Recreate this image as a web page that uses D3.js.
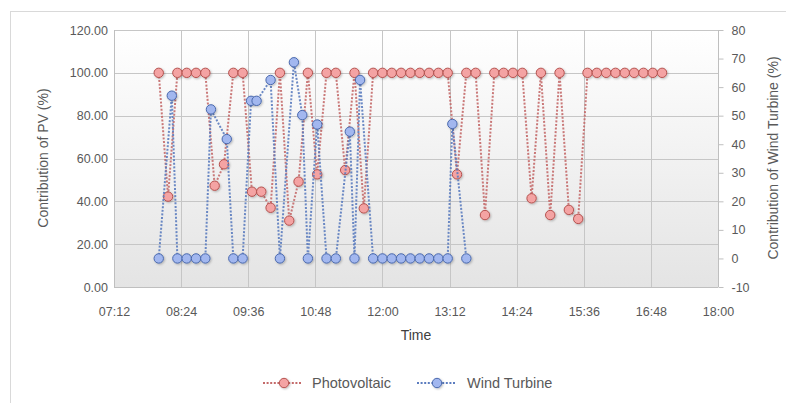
<!DOCTYPE html>
<html>
<head>
<meta charset="utf-8">
<script src="https://cdn.jsdelivr.net/npm/d3@7/dist/d3.min.js"></script>
<style>
html,body{margin:0;padding:0;background:#fff;}
svg{display:block;font-family:"Liberation Sans",Arial,sans-serif;}
</style>
</head>
<body>
<svg id="chart" width="786" height="403"></svg>
<script>
// ---- data ----
const pvTimes = ["08:00","08:10","08:20","08:30","08:40","08:50","09:00","09:10","09:20","09:30",
  "09:40","09:50","10:00","10:10","10:20","10:30","10:40","10:50","11:00","11:10",
  "11:20","11:30","11:40","11:50","12:00","12:10","12:20","12:30","12:40","12:50",
  "13:00","13:10","13:20","13:30","13:40","13:50","14:00","14:10","14:20","14:30",
  "14:40","14:50","15:00","15:10","15:20","15:30","15:40","15:50","16:00","16:10",
  "16:20","16:30","16:40","16:50","17:00"];
const pvValues = [100,42.2,100,100,100,100,47.3,57.3,100,100,
  44.5,44.5,37.0,100,31.0,49.2,100,52.6,100,100,
  54.6,100,36.7,100,100,100,100,100,100,100,
  100,100,52.6,100,100,33.6,100,100,100,100,
  41.4,100,33.6,100,36.0,31.8,100,100,100,100,
  100,100,100,100,100];
const windTimes = ["08:00","08:14","08:20","08:30","08:40","08:50","08:56","09:13","09:20","09:30",
  "09:39","09:45","10:00","10:10","10:25","10:34","10:40","10:50","11:00","11:10",
  "11:25","11:30","11:36","11:50","12:00","12:10","12:20","12:30","12:40","12:50",
  "13:00","13:10","13:15","13:30"];
const windValues = [0,57.0,0,0,0,0,52.2,41.8,0,0,
  55.2,55.2,62.5,0,68.7,50.2,0,46.9,0,0,
  44.4,0,62.5,0,0,0,0,0,0,0,
  0,0,47.1,0];
const xTickLabels = ["07:12","08:24","09:36","10:48","12:00","13:12","14:24","15:36","16:48","18:00"];
const leftTicks = [0,20,40,60,80,100,120];
const rightTicks = [-10,0,10,20,30,40,50,60,70,80];
const seriesNames = ["Photovoltaic","Wind Turbine"];

// ---- layout ----
const svg = d3.select("#chart");
const L = 114, R = 718, T = 30, B = 287;
const parse = d3.timeParse("%H:%M");
const x = d3.scaleTime().domain([parse("07:12"), parse("18:00")]).range([L, R]);
const yL = d3.scaleLinear().domain([0,120]).range([B, T]);
const yR = d3.scaleLinear().domain([-10,80]).range([B, T]);
const txt = "#595959";

// outer frame
svg.append("rect").attr("x",10.5).attr("y",11.5).attr("width",800).attr("height",420)
  .attr("fill","none").attr("stroke","#d9d9d9");

// plot background gradient
const defs = svg.append("defs");
const g = defs.append("linearGradient").attr("id","bg").attr("x1",0).attr("y1",0).attr("x2",0).attr("y2",1);
g.append("stop").attr("offset","0%").attr("stop-color","#ffffff");
g.append("stop").attr("offset","100%").attr("stop-color","#e4e4e4");
const sh = defs.append("filter").attr("id","sh").attr("x","-50%").attr("y","-50%").attr("width","200%").attr("height","200%");
sh.append("feDropShadow").attr("dx",1).attr("dy",1).attr("stdDeviation",1).attr("flood-color","#000").attr("flood-opacity",0.25);

svg.append("rect").attr("x",L).attr("y",T).attr("width",R-L).attr("height",B-T).attr("fill","url(#bg)");

// gridlines
const grid = svg.append("g").attr("stroke","#c6c6c6").attr("stroke-width",1);
leftTicks.forEach(v=>{
  grid.append("line").attr("x1",L).attr("x2",R).attr("y1",Math.round(yL(v))+0.5).attr("y2",Math.round(yL(v))+0.5);
});
xTickLabels.forEach(t=>{
  const xv = Math.round(x(parse(t)))+0.5;
  grid.append("line").attr("x1",xv).attr("x2",xv).attr("y1",T).attr("y2",B);
});
// axis lines
svg.append("line").attr("x1",L+0.5).attr("x2",L+0.5).attr("y1",T).attr("y2",B).attr("stroke","#bfbfbf");
svg.append("line").attr("x1",L).attr("x2",R).attr("y1",B+0.5).attr("y2",B+0.5).attr("stroke","#bfbfbf");

// left axis
const axL = d3.axisLeft(yL).tickValues(leftTicks).tickSize(0).tickPadding(6).tickFormat(d3.format(".2f"));
const gL = svg.append("g").attr("transform",`translate(${L},0)`).call(axL);
gL.select(".domain").remove();
gL.selectAll("text").attr("fill",txt).style("font-size","12.5px").attr("font-family","Liberation Sans, Arial, sans-serif");

// right axis
const axR = d3.axisRight(yR).tickValues(rightTicks).tickSize(5).tickPadding(8).tickFormat(d=>String(d));
const gR = svg.append("g").attr("transform",`translate(${R+0.5},0)`).call(axR);
gR.select(".domain").attr("stroke","#bfbfbf").attr("d",`M0,${T}V${B}`);
gR.selectAll(".tick line").attr("stroke","#bfbfbf");
gR.selectAll("text").attr("fill",txt).style("font-size","12.5px").attr("font-family","Liberation Sans, Arial, sans-serif");

// bottom axis
const axB = d3.axisBottom(x).tickValues(xTickLabels.map(parse)).tickSize(0).tickPadding(20).tickFormat(d3.timeFormat("%H:%M"));
const gB = svg.append("g").attr("transform",`translate(0,${B})`).call(axB);
gB.select(".domain").remove();
gB.selectAll("text").attr("fill",txt).style("font-size","12.5px").attr("font-family","Liberation Sans, Arial, sans-serif");

// axis titles
svg.append("text").attr("transform",`translate(48,158) rotate(-90)`).attr("text-anchor","middle")
  .attr("fill",txt).style("font-size","14px").text("Contribution of PV (%)");
svg.append("text").attr("transform",`translate(778,158) rotate(-90)`).attr("text-anchor","middle")
  .attr("fill",txt).style("font-size","14px").text("Contribution of Wind Turbine (%)");
svg.append("text").attr("x",416).attr("y",340).attr("text-anchor","middle")
  .attr("fill","#404040").style("font-size","14px").text("Time");

// series
const styles = [
  {line:"#c46a6a", fill:"#f4a3a3", stroke:"#b5524f"},
  {line:"#5b7cbf", fill:"#a2b7ef", stroke:"#4a69ad"}
];
function drawSeries(times, vals, yScale, st){
  const pts = times.map((t,i)=>({t:parse(t), v:vals[i]}));
  const line = d3.line().x(d=>x(d.t)).y(d=>yScale(d.v));
  svg.append("path").datum(pts).attr("d",line).attr("fill","none")
    .attr("stroke",st.line).attr("stroke-width",2).attr("stroke-dasharray","2,1.6").attr("opacity",0.9);
  svg.append("g").selectAll("circle").data(pts).join("circle")
    .attr("cx",d=>x(d.t)).attr("cy",d=>yScale(d.v)).attr("r",4.7)
    .attr("fill",st.fill).attr("stroke",st.stroke).attr("stroke-width",1).attr("filter","url(#sh)");
}
drawSeries(pvTimes, pvValues, yL, styles[0]);
drawSeries(windTimes, windValues, yR, styles[1]);

// legend
const legend = [{x0:263,x1:302,cx:284,tx:312},{x0:417,x1:456,cx:437,tx:467}];
legend.forEach((lg,i)=>{
  const st = styles[i];
  svg.append("line").attr("x1",lg.x0).attr("x2",lg.x1).attr("y1",383).attr("y2",383)
    .attr("stroke",st.line).attr("stroke-width",2).attr("stroke-dasharray","2,1.6");
  svg.append("circle").attr("cx",lg.cx).attr("cy",383).attr("r",4.7)
    .attr("fill",st.fill).attr("stroke",st.stroke).attr("filter","url(#sh)");
  svg.append("text").attr("x",lg.tx).attr("y",388).attr("fill",txt).style("font-size","14.5px").text(seriesNames[i]);
});
</script>
</body>
</html>
